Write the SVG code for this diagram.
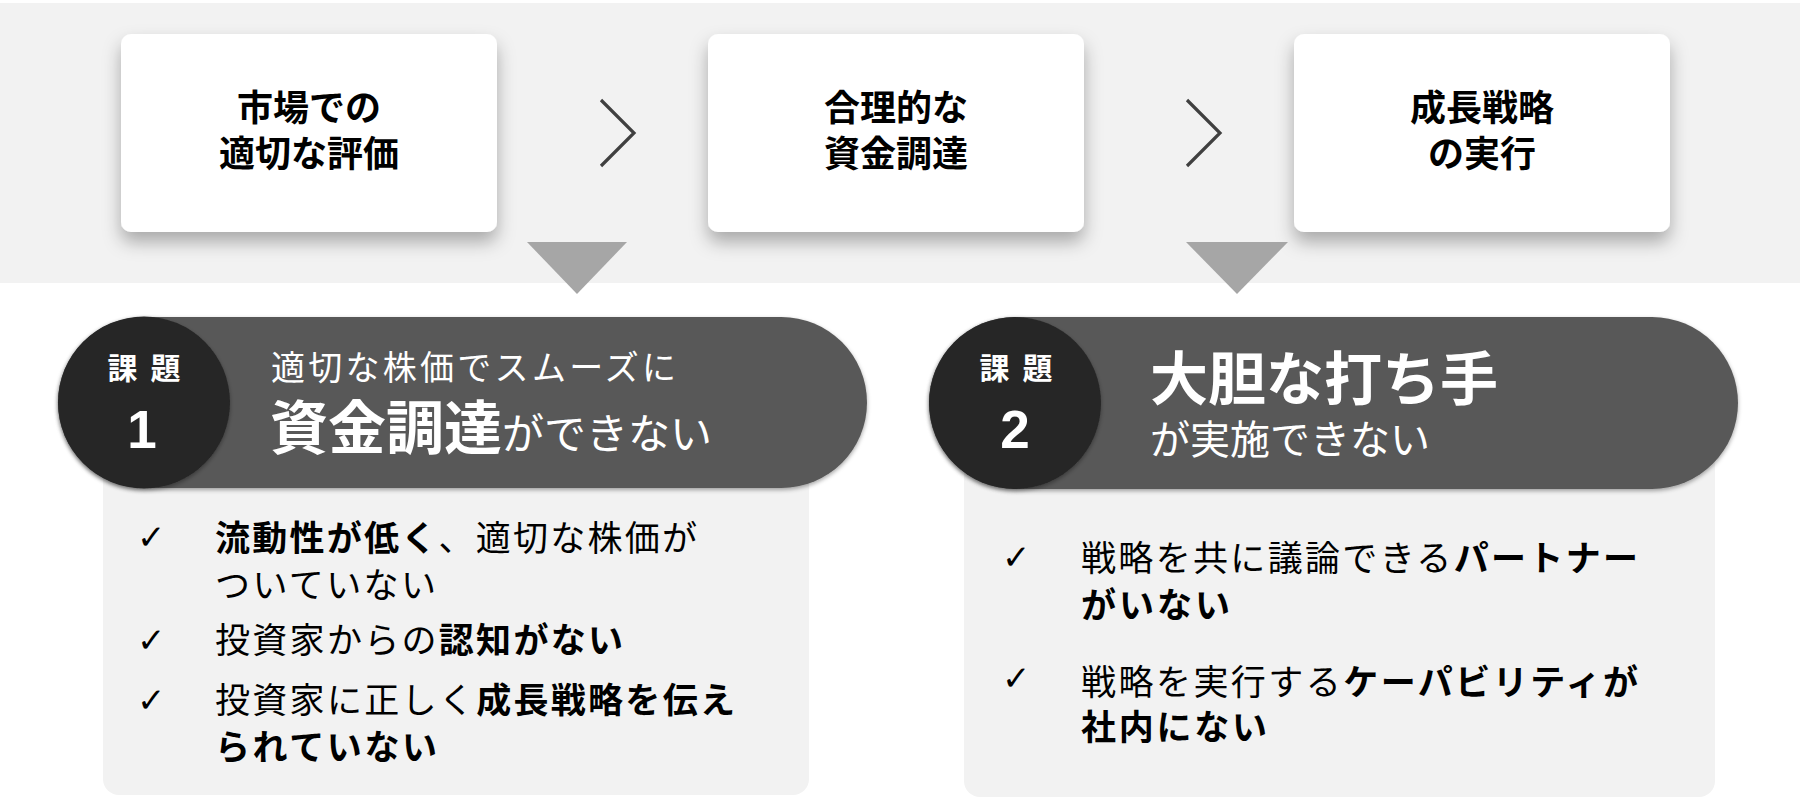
<svg xmlns="http://www.w3.org/2000/svg" width="1800" height="800" viewBox="0 0 1800 800">
<defs>
<filter id="boxShadow" x="-10%" y="-10%" width="120%" height="140%">
<feDropShadow dx="0" dy="10" stdDeviation="9" flood-color="#000" flood-opacity="0.3"/>
</filter>
<filter id="pillShadow" x="-5%" y="-10%" width="110%" height="125%">
<feDropShadow dx="0" dy="2" stdDeviation="2" flood-color="#000" flood-opacity="0.35"/>
</filter>
<style>
text{font-family:"Noto Sans CJK JP","Noto Sans",sans-serif;}
.box{fill:#ffffff;filter:url(#boxShadow);}
.boxText{font-size:36px;font-weight:bold;fill:#000;text-anchor:middle;}
.chev{fill:none;stroke:#404040;stroke-width:3.2;}
.tri{fill:#a6a6a6;}
.pill{fill:#595959;filter:url(#pillShadow);}
.circ{fill:#262626;filter:url(#pillShadow);}
.panel{fill:#f2f2f2;}
.w{fill:#fff;}
.label{font-size:30px;font-weight:bold;text-anchor:middle;}
.num{font-family:"Liberation Sans",Arial,sans-serif;font-size:53px;font-weight:bold;text-anchor:middle;}
.item{font-size:35px;fill:#000;}
.b{font-weight:bold;}
.check{font-family:"DejaVu Sans",sans-serif;font-size:34px;font-weight:bold;fill:#000;}
</style>
</defs>
<rect x="0" y="0" width="1800" height="800" fill="#ffffff"/>
<rect x="0" y="3" width="1800" height="280" fill="#f2f2f2"/>

<g id="box1">
<rect class="box" x="121" y="34" width="376" height="198" rx="10"/>
<text class="boxText" x="309" y="121">市場での</text>
<text class="boxText" x="309" y="167">適切な評価</text>
</g>
<g id="box2">
<rect class="box" x="708" y="34" width="376" height="198" rx="10"/>
<text class="boxText" x="896" y="121">合理的な</text>
<text class="boxText" x="896" y="167">資金調達</text>
</g>
<g id="box3">
<rect class="box" x="1294" y="34" width="376" height="198" rx="10"/>
<text class="boxText" x="1482" y="121">成長戦略</text>
<text class="boxText" x="1482" y="167">の実行</text>
</g>

<g id="connectors">
<polyline class="chev" points="601,100 634,133 601,166"/>
<polyline class="chev" points="1187,100 1220,133 1187,166"/>
<polygon class="tri" points="527,242 627,242 577,294"/>
<polygon class="tri" points="1186,242 1288,242 1237,294"/>
</g>

<g id="issue1">
<rect class="panel" x="103" y="420" width="706" height="375" rx="16"/>
<rect class="pill" x="58" y="317" width="809" height="171" rx="85.5"/>
<circle class="circ" cx="144" cy="402.5" r="86"/>
<text class="w label" x="144" y="379" textLength="73" lengthAdjust="spacing">課 題</text>
<text class="w num" x="142" y="448">1</text>
<text class="w" x="271" y="380" font-size="34" textLength="405" lengthAdjust="spacing">適切な株価でスムーズに</text>
<text class="w" x="270" y="449"><tspan font-size="58" font-weight="bold">資金調達</tspan><tspan font-size="42">ができない</tspan></text>
<text class="check" x="137" y="549">✓</text>
<text class="item" x="215" y="551" textLength="482" lengthAdjust="spacing"><tspan class="b">流動性が低く</tspan>、適切な株価が</text>
<text class="item" x="215" y="598" textLength="221" lengthAdjust="spacing">ついていない</text>
<text class="check" x="137" y="652">✓</text>
<text class="item" x="215" y="653" textLength="408" lengthAdjust="spacing">投資家からの<tspan class="b">認知がない</tspan></text>
<text class="check" x="137" y="712">✓</text>
<text class="item" x="215" y="713" textLength="520" lengthAdjust="spacing">投資家に正しく<tspan class="b">成長戦略を伝え</tspan></text>
<text class="item b" x="215" y="760" textLength="222" lengthAdjust="spacing">られていない</text>
</g>

<g id="issue2">
<rect class="panel" x="964" y="420" width="751" height="377" rx="16"/>
<rect class="pill" x="929" y="317" width="809" height="172" rx="86"/>
<circle class="circ" cx="1015" cy="403" r="86"/>
<text class="w label" x="1016" y="379" textLength="73" lengthAdjust="spacing">課 題</text>
<text class="w num" x="1015" y="448">2</text>
<text class="w" x="1150" y="400" font-size="58" font-weight="bold">大胆な打ち手</text>
<text class="w" x="1150" y="454" font-size="40">が実施できない</text>
<text class="check" x="1002" y="569">✓</text>
<text class="item" x="1081" y="571" textLength="557" lengthAdjust="spacing">戦略を共に議論できる<tspan class="b">パートナー</tspan></text>
<text class="item b" x="1081" y="618" textLength="149" lengthAdjust="spacing">がいない</text>
<text class="check" x="1002" y="690">✓</text>
<text class="item" x="1081" y="695" textLength="557" lengthAdjust="spacing">戦略を実行する<tspan class="b">ケーパビリティが</tspan></text>
<text class="item b" x="1081" y="740" textLength="186" lengthAdjust="spacing">社内にない</text>
</g>
</svg>
